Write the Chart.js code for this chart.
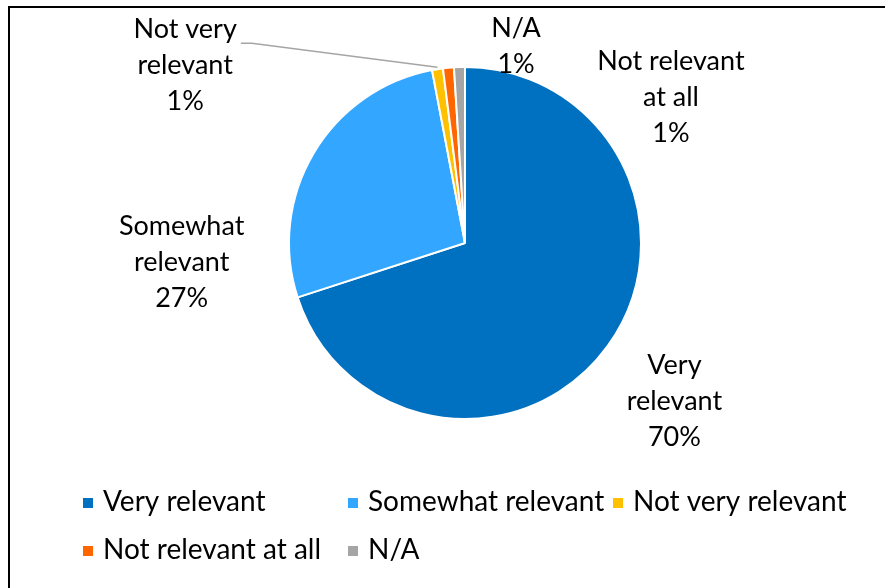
<!DOCTYPE html>
<html>
<head>
<meta charset="utf-8">
<script src="https://cdn.jsdelivr.net/npm/chart.js@4"></script>
<style>
  html, body { margin: 0; padding: 0; background: #fff; }
  #wrap { width: 885px; height: 588px; }
</style>
</head>
<body>
<div id="wrap"><canvas id="relevanceChart" width="885" height="588"></canvas></div>
<script>
// Data
const categories = ['Very relevant', 'Somewhat relevant', 'Not very relevant', 'Not relevant at all', 'N/A'];
const shares = [70, 27, 1, 1, 1];
const labelText = [['Very', 'relevant'], ['Somewhat', 'relevant'], ['Not very', 'relevant'], ['Not relevant', 'at all'], ['N/A']];
const sliceColors = ['#0070C0', '#33A6FF', '#FFC000', '#FF6600', '#A5A5A5'];

const FONT = 'Lato, "Liberation Sans", sans-serif';

// where each data label sits, in units of the pie radius from the centre
const labelAnchors = [
    { dx: 1.19, dy: 0.90 },
    { dx: -1.61, dy: 0.11 },
    { dx: -1.59, dy: -1.01, leader: true },
    { dx: 1.17, dy: -0.83 },
    { dx: 0.29, dy: -1.12 }
];

// Frame (only top and left edges show inside the picture)
const framePlugin = {
    id: 'frame',
    beforeDraw(chart) {
        const ctx = chart.ctx;
        ctx.save();
        ctx.fillStyle = '#fff';
        ctx.fillRect(0, 0, chart.width, chart.height);
        ctx.fillStyle = '#000';
        ctx.fillRect(8, 6, chart.width - 8, 2);
        ctx.fillRect(8, 6, 2, chart.height - 6);
        ctx.restore();
    }
};

// Data labels
const pieLabels = {
    id: 'pieLabels',
    afterDatasetsDraw(chart) {
        const ctx = chart.ctx;
        const arcs = chart.getDatasetMeta(0).data;
        const lineH = 36;
        ctx.save();
        ctx.font = '27px ' + FONT;
        ctx.fillStyle = '#000';
        ctx.textAlign = 'center';
        ctx.textBaseline = 'middle';
        arcs.forEach((arc, i) => {
            const r = arc.outerRadius;
            const a = labelAnchors[i];
            const cx = arc.x + a.dx * r;
            const cy = arc.y + a.dy * r;
            const lines = labelText[i].concat([shares[i] + '%']);
            const top = cy - (lines.length - 1) * lineH / 2;
            lines.forEach((t, k) => ctx.fillText(t, cx, top + k * lineH));
            if (a.leader) {
                const w = Math.max(...lines.map(t => ctx.measureText(t).width));
                const mid = (arc.startAngle + arc.endAngle) / 2;
                const ex = arc.x + Math.cos(mid) * r;
                const ey = arc.y + Math.sin(mid) * r;
                const sx = cx + w / 2 + 4;
                const sy = top + 14;
                ctx.strokeStyle = '#A5A5A5';
                ctx.lineWidth = 1.5;
                ctx.beginPath();
                ctx.moveTo(sx, sy);
                ctx.lineTo(sx + 11, sy);
                ctx.lineTo(ex, ey - 2);
                ctx.stroke();
            }
        });
        ctx.restore();
    }
};

// Legend laid out in columns, like the spreadsheet original
const columnLegend = {
    id: 'columnLegend',
    afterDraw(chart) {
        const ctx = chart.ctx;
        const left = 83, colW = 265, rowTop = 502, rowH = 48, perRow = 3;
        ctx.save();
        ctx.font = '28px ' + FONT;
        ctx.textBaseline = 'middle';
        ctx.textAlign = 'left';
        chart.data.labels.forEach((name, i) => {
            const x = left + (i % perRow) * colW;
            const y = rowTop + Math.floor(i / perRow) * rowH;
            ctx.fillStyle = sliceColors[i];
            ctx.fillRect(x, y - 4, 10, 10);
            ctx.fillStyle = '#000';
            ctx.fillText(name, x + 20, y);
        });
        ctx.restore();
    }
};

const ctx = document.getElementById('relevanceChart').getContext('2d');
new Chart(ctx, {
    type: 'pie',
    data: {
        labels: categories,
        datasets: [{
            data: shares,
            backgroundColor: sliceColors,
            borderColor: '#ffffff',
            borderWidth: 2,
            hoverOffset: 0
        }]
    },
    options: {
        responsive: false,
        animation: false,
        layout: { padding: { top: 66, bottom: 168, left: 115, right: 70 } },
        plugins: {
            legend: { display: false },
            tooltip: { enabled: false }
        }
    },
    plugins: [framePlugin, pieLabels, columnLegend]
});
</script>
</body>
</html>
